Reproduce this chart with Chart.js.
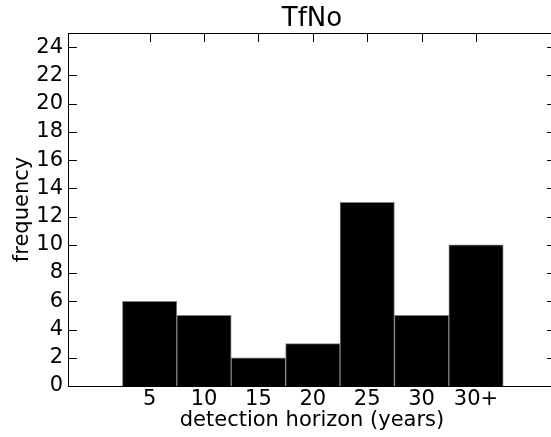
<!DOCTYPE html>
<html>
<head>
<meta charset="utf-8">
<script src="https://cdn.jsdelivr.net/npm/chart.js@4.4.1/dist/chart.umd.min.js"></script>
<style>
  html, body { margin: 0; padding: 0; background: #fff; overflow: hidden; }
  #wrap { width: 600px; height: 437px; }
</style>
</head>
<body>
<div id="wrap"><canvas id="chart" width="600" height="437"></canvas></div>
<script>
const categories = ["5", "10", "15", "20", "25", "30", "30+"];
const frequencies = [6, 5, 2, 3, 13, 5, 10];
const yTicks = [0, 2, 4, 6, 8, 10, 12, 14, 16, 18, 20, 22, 24];

const FONT = "'DejaVu Sans', sans-serif";
const TICK_LEN = 9;

// bins sit at unit intervals starting at 1, label at the bin center
const binCenter = (i) => i + 1.5;

// matplotlib-like frame with inward ticks on all four sides
const framePlugin = {
  id: "frame",
  afterDatasetsDraw(chart) {
    const { ctx, chartArea: a, scales } = chart;
    ctx.save();
    ctx.strokeStyle = "#000";
    ctx.lineWidth = 1;
    ctx.beginPath();
    scales.y.ticks.forEach((t) => {
      const y = Math.round(scales.y.getPixelForValue(t.value)) + 0.5;
      ctx.moveTo(a.left, y);
      ctx.lineTo(a.left + TICK_LEN, y);
      ctx.moveTo(a.right, y);
      ctx.lineTo(a.right - TICK_LEN, y);
    });
    scales.x.ticks.forEach((t) => {
      const x = Math.round(scales.x.getPixelForValue(t.value)) + 0.5;
      ctx.moveTo(x, a.top);
      ctx.lineTo(x, a.top + TICK_LEN);
      ctx.moveTo(x, a.bottom);
      ctx.lineTo(x, a.bottom - TICK_LEN);
    });
    ctx.stroke();
    ctx.strokeRect(Math.round(a.left) + 0.5, Math.round(a.top) + 0.5,
      Math.round(a.right - a.left), Math.round(a.bottom - a.top));
    ctx.restore();
  },
};

new Chart(document.getElementById("chart"), {
  type: "bar",
  data: {
    datasets: [
      {
        data: frequencies.map((f, i) => ({ x: binCenter(i), y: f })),
        backgroundColor: "#000",
        borderColor: "#808080",
        borderWidth: 1,
        borderSkipped: "bottom",
        barPercentage: 1,
        categoryPercentage: 1,
      },
    ],
  },
  options: {
    responsive: false,
    animation: false,
    devicePixelRatio: 1,
    layout: { padding: { left: 0, right: 44, top: 0, bottom: 0 } },
    plugins: {
      legend: { display: false },
      tooltip: { enabled: false },
      title: {
        display: true,
        text: "TfNo",
        fullSize: false,
        color: "#000",
        font: { family: FONT, size: 26, weight: "normal", lineHeight: 1 },
        padding: { top: 6, bottom: 1 },
      },
    },
    scales: {
      x: {
        type: "linear",
        offset: false,
        min: 0,
        max: 8.97,
        afterBuildTicks: (s) => {
          s.ticks = categories.map((c, i) => ({ value: binCenter(i) }));
        },
        afterFit: (s) => { s.height = 51; },
        ticks: {
          autoSkip: false,
          maxRotation: 0,
          padding: 1,
          color: "#000",
          font: { family: FONT, size: 21 },
          callback: (v) => {
            const i = Math.round(v - 1.5);
            return categories[i] ?? "";
          },
        },
        grid: { display: false, drawTicks: false },
        border: { display: false },
        title: {
          display: true,
          text: "detection horizon (years)",
          color: "#000",
          font: { family: FONT, size: 21 },
          padding: { top: 0, bottom: 4 },
        },
      },
      y: {
        min: 0,
        max: 25,
        afterBuildTicks: (s) => {
          s.ticks = yTicks.map((v) => ({ value: v }));
        },
        afterFit: (s) => { s.width = 68; },
        ticks: {
          padding: 5,
          color: "#000",
          font: { family: FONT, size: 21 },
        },
        grid: { display: false, drawTicks: false },
        border: { display: false },
        title: {
          display: true,
          text: "frequency",
          color: "#000",
          font: { family: FONT, size: 21 },
          padding: { top: 10, bottom: 0 },
        },
      },
    },
  },
  plugins: [framePlugin],
});
</script>
</body>
</html>
